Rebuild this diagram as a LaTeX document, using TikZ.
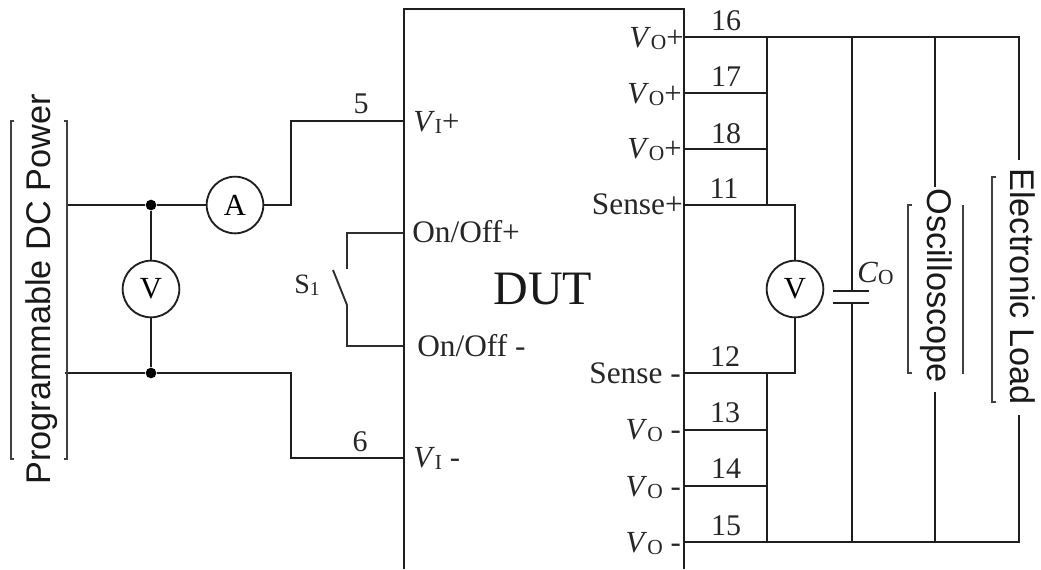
\documentclass[tikz,border=0pt]{standalone}
\usepackage{fontspec}
\usepackage{graphicx}
\setmainfont{Liberation Serif}
\newfontfamily\arialf{Liberation Sans}
\newcommand{\subO}[1]{\raisebox{-0.2ex}{\scalebox{.7}{#1}}}
\newcommand{\VO}{\textit{V}\subO{O}}
\newcommand{\VI}{\textit{V}\subO{I}}
\tikzset{
  wire/.style={line width=1.5pt,color=black!88,line join=miter},
  thin wire/.style={line width=1.4pt,color=black!82},
  meter/.style={circle,draw=black!88,line width=1.4pt,fill=white,minimum size=42.5pt,inner sep=0pt,font=\fontsize{23}{23}\selectfont},
  dot/.style={circle,fill=black,inner sep=0pt,minimum size=8pt},
  lab/.style={inner sep=0pt,font=\fontsize{23.5}{24}\selectfont,text=black!85},
  vlab/.style={inner sep=0pt,font=\fontsize{23}{24}\selectfont,text=black!85},
  pin/.style={inner sep=0pt,anchor=base,font=\fontsize{22.5}{24}\selectfont,text=black!85},
  sideR/.style={inner sep=0pt,rotate=-90,font=\arialf\fontsize{25.7}{26}\selectfont,text=black!90},
  sideL/.style={inner sep=0pt,rotate=90,font=\arialf\fontsize{25.7}{26}\selectfont,text=black!90},
  bracket/.style={line width=1.3pt,color=black!75},
}
\begin{document}
\begin{tikzpicture}[x=0.75pt,y=-0.75pt]
\useasboundingbox (0,0) rectangle (1041,569);
% DUT box
\draw[wire] (403.5,569) |- (684,9) -- (684,569);
\node[inner sep=0pt,font=\fontsize{36}{36}\selectfont,text=black!90] (dut) at (543,289) {DUT};
% meters
\node[meter] (A) at (235,205) {A};
\node[meter] (V1) at (151,289) {V};
\node[meter] (V2) at (795,289) {V};
\node[dot] (j1) at (151,205) {};
\node[dot] (j2) at (151,373) {};
% coordinates
\coordinate (psT) at (67,205);
\coordinate (psB) at (65,373);
\coordinate (p5) at (403,121);
\coordinate (p6) at (403,458);
\coordinate (onp) at (403,233);
\coordinate (onm) at (403,346);
\coordinate (swT) at (347,269);
\coordinate (swB) at (347,305);
\coordinate (swE) at (333,270);
\coordinate (p16) at (684,37);
\coordinate (p17) at (684,93);
\coordinate (p18) at (684,149);
\coordinate (p11) at (684,205);
\coordinate (p12) at (684,373);
\coordinate (p13) at (684,430);
\coordinate (p14) at (684,486);
\coordinate (p15) at (684,542);
\coordinate (capT) at (852,291);
\coordinate (capB) at (852,303);
\coordinate (oscT) at (935,187);
\coordinate (oscB) at (935,392);
\coordinate (elT) at (1019,160);
\coordinate (elB) at (1019,415);
% left wiring
\draw[wire] (psT) -- (j1) -- (A);
\draw[wire] (A) -- (291,205) -- (291,121) -- (p5);
\draw[wire] (psB) -- (j2) -- (291,373) -- (291,458) -- (p6);
\draw[wire] (j1) -- (V1);
\draw[wire] (V1) -- (j2);
\draw[thin wire] (onp) -- (347,233) -- (swT);
\draw[thin wire] (swE) -- (swB) -- (347,346) -- (onm);
% right wiring
\draw[wire] (p16) -- (1019,37) -- (elT);
\draw[wire] (767,37) -- (767,205);
\draw[wire] (p17) -- (767,93);
\draw[wire] (p18) -- (767,149);
\draw[wire] (p11) -- (795,205) -- (V2);
\draw[wire] (V2) -- (795,373) -- (p12);
\draw[wire] (767,373) -- (767,542);
\draw[wire] (p13) -- (767,430);
\draw[wire] (p14) -- (767,486);
\draw[wire] (p15) -- (1019,542) -- (elB);
\draw[wire] (852,37) -- (capT);
\draw[wire] (capB) -- (852,542);
\draw[wire] (935,37) -- (oscT);
\draw[wire] (oscB) -- (935,542);
\draw[wire] (833,291) -- (869,291);
\draw[wire] (833,303) -- (869,303);
% brackets
\draw[bracket] (14,121) -- (11,121) -- (11,459) -- (14,459);
\draw[bracket] (64,121) -- (67,121) -- (67,459) -- (64,459);
\draw[bracket] (912,205) -- (908,205) -- (908,373) -- (912,373);
\draw[bracket] (963,205) -- (963,374);
\draw[bracket] (996,177) -- (992,177) -- (992,402) -- (996,402);
% side labels
\node[sideL] (pdc) at (42,289.5) {Programmable DC Power};
\node[sideR] (osc) at (936,285.5) {Oscilloscope};
\node[sideR] (el) at (1023,286.5) {Electronic Load};
% pin numbers
\node[pin] (n5) at (361,113) {5};
\node[pin] (n6) at (360,451) {6};
\node[pin] (n16) at (726,30) {16};
\node[pin] (n17) at (726,86) {17};
\node[pin] (n18) at (726,143) {18};
\node[pin] (n11) at (724,198) {11};
\node[pin] (n12) at (725,366) {12};
\node[pin] (n13) at (725,422) {13};
\node[pin] (n14) at (726,478) {14};
\node[pin] (n15) at (726,535) {15};
% DUT pin labels
\node[vlab,anchor=base west] (vip) at (413,131) {\VI+};
\node[vlab,anchor=base west] (vim) at (413,467) {\VI\ -};
\node[lab,anchor=base west] (onpl) at (412,242.5) {On/Off+};
\node[lab,anchor=base west] (onml) at (417,356) {On/Off -};
\node[vlab,anchor=base east] (vo1) at (684,47) {\VO+};
\node[vlab,anchor=base east] (vo2) at (682,103) {\VO+};
\node[vlab,anchor=base east] (vo3) at (682,158) {\VO+};
\node[lab,anchor=base east] (sp) at (683,214.5) {Sense+};
\node[lab,anchor=base east] (sm) at (681,383) {Sense -};
\node[vlab,anchor=base east] (vo4) at (681,439) {\VO\ -};
\node[vlab,anchor=base east] (vo5) at (681,496) {\VO\ -};
\node[vlab,anchor=base east] (vo6) at (681,552) {\VO\ -};
\node[vlab,anchor=base west] (co) at (857,282) {\textit{C}\subO{O}};
\node[inner sep=0pt,anchor=base west,font=\fontsize{21}{22}\selectfont,text=black!85] (s1) at (294,293) {S\subO{1}};
\end{tikzpicture}
\end{document}
